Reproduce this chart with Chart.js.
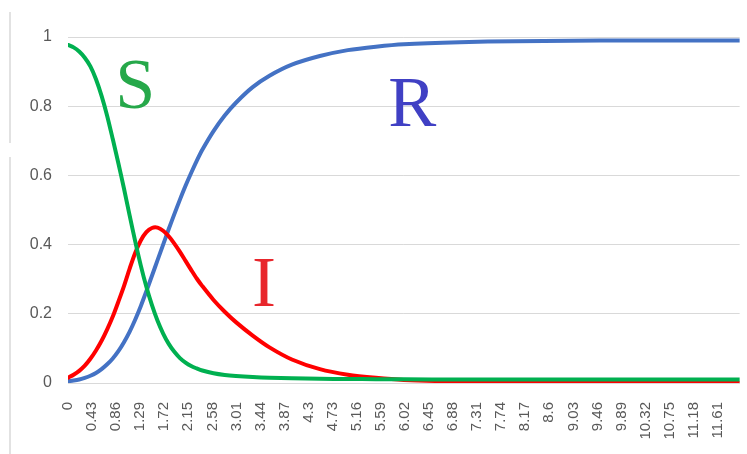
<!DOCTYPE html>
<html>
<head>
<meta charset="utf-8">
<script src="https://cdn.jsdelivr.net/npm/chart.js@4/dist/chart.umd.min.js"></script>
<style>
  html, body { margin: 0; padding: 0; background: #fff; }
  #wrap { width: 747px; height: 454px; position: relative; }
</style>
</head>
<body>
<div id="wrap"><canvas id="sir"></canvas></div>
<script>
// SIR model curves
var times = [0, 0.1, 0.2, 0.3, 0.4, 0.5, 0.6, 0.7, 0.8, 0.9, 1.0, 1.1, 1.2, 1.3, 1.4, 1.5, 1.6, 1.7, 1.8, 1.9,
             2.0, 2.1, 2.2, 2.3, 2.4, 2.6, 2.8, 3.0, 3.3, 3.6, 4.0, 4.5, 5.0, 5.5, 6.0, 7.0, 8.0, 9.0, 10.0, 11.0, 12.0];
var susceptible = [0.977, 0.970, 0.958, 0.940, 0.915, 0.878, 0.830, 0.772, 0.705, 0.635, 0.562, 0.485, 0.41, 0.34, 0.278,
                   0.225, 0.18, 0.143, 0.113, 0.09, 0.072, 0.059, 0.049, 0.042, 0.036, 0.028, 0.023, 0.02, 0.017, 0.015,
                   0.0135, 0.012, 0.0115, 0.011, 0.0105, 0.0102, 0.01, 0.01, 0.01, 0.01, 0.01];
var infected = [0.015, 0.024, 0.035, 0.05, 0.07, 0.094, 0.122, 0.155, 0.192, 0.235, 0.28, 0.33, 0.376, 0.412, 0.436,
                0.448, 0.449, 0.44, 0.424, 0.403, 0.379, 0.353, 0.327, 0.302, 0.28, 0.24, 0.206, 0.176, 0.137, 0.103,
                0.068, 0.04, 0.024, 0.015, 0.009, 0.004, 0.002, 0.001, 0.0005, 0.0002, 0.0001];
var recovered = [0.005, 0.007, 0.01, 0.015, 0.021, 0.029, 0.04, 0.054, 0.071, 0.092, 0.118, 0.148, 0.183, 0.222, 0.265,
                 0.31, 0.355, 0.40, 0.445, 0.488, 0.53, 0.57, 0.607, 0.642, 0.674, 0.728, 0.773, 0.81, 0.855, 0.888,
                 0.92, 0.945, 0.962, 0.972, 0.979, 0.985, 0.988, 0.989, 0.99, 0.99, 0.99];
var tickLabels = ['0', '0.43', '0.86', '1.29', '1.72', '2.15', '2.58', '3.01', '3.44', '3.87', '4.3', '4.73', '5.16', '5.59',
                  '6.02', '6.45', '6.88', '7.31', '7.74', '8.17', '8.6', '9.03', '9.46', '9.89', '10.32', '10.75', '11.18', '11.61'];

// big letters placed in data coordinates
var letters = [
    { text: 'S', t: 1.2, v: 0.85, color: '#26A84A' },
    { text: 'I', t: 3.5, v: 0.277, color: '#E8262C' },
    { text: 'R', t: 6.15, v: 0.798, color: '#4040C4' }
];

function toPoints(ys) {
    return ys.map(function (y, i) { return { x: times[i], y: y }; });
}

var lettersPlugin = {
    id: 'letters',
    beforeDraw: function (chart) {
        var ctx = chart.ctx;
        ctx.save();
        ctx.fillStyle = '#fff';
        ctx.fillRect(0, 0, chart.width, chart.height);
        // the two grey frame lines at the left edge
        ctx.strokeStyle = '#D9D9D9';
        ctx.lineWidth = 1.5;
        ctx.beginPath();
        ctx.moveTo(10, 12); ctx.lineTo(10, 143);
        ctx.moveTo(10, 157); ctx.lineTo(10, 454);
        ctx.stroke();
        ctx.restore();
    },
    afterDatasetsDraw: function (chart) {
        var ctx = chart.ctx;
        var xs = chart.scales.x, ys = chart.scales.y;
        ctx.save();
        ctx.font = '72px "Liberation Serif", "DejaVu Serif", serif';
        ctx.textAlign = 'center';
        ctx.textBaseline = 'middle';
        letters.forEach(function (l) {
            ctx.fillStyle = l.color;
            ctx.fillText(l.text, xs.getPixelForValue(l.t), ys.getPixelForValue(l.v));
        });
        ctx.restore();
    }
};

var ctx = document.getElementById('sir');
new Chart(ctx.getContext('2d'), {
    type: 'line',
    data: {
        datasets: [
            { label: 'S', data: toPoints(susceptible), borderColor: '#00B050' },
            { label: 'I', data: toPoints(infected), borderColor: '#FF0000' },
            { label: 'R', data: toPoints(recovered), borderColor: '#4472C4' }
        ]
    },
    options: {
        responsive: true,
        maintainAspectRatio: false,
        animation: false,
        layout: { padding: { top: 37, right: 6, left: 0, bottom: 0 } },
        elements: {
            point: { radius: 0 },
            line: { borderWidth: 4, tension: 0.3, fill: false, borderCapStyle: 'round' }
        },
        plugins: { legend: { display: false }, tooltip: { enabled: false } },
        scales: {
            x: {
                type: 'linear',
                min: 0,
                max: 12,
                afterBuildTicks: function (scale) {
                    scale.ticks = tickLabels.map(function (s) { return { value: parseFloat(s) }; });
                },
                afterFit: function (scale) { scale.height = 71; },
                grid: { display: false },
                border: { display: true, color: '#D9D9D9', width: 1 },
                ticks: {
                    autoSkip: false,
                    minRotation: 90,
                    maxRotation: 90,
                    padding: 11,
                    color: '#595959',
                    font: { family: '"Liberation Sans", Arial, sans-serif', size: 15 },
                    callback: function (value, index) { return tickLabels[index]; }
                }
            },
            y: {
                min: 0,
                max: 1,
                afterFit: function (scale) { scale.width = 68; },
                border: { display: false },
                grid: { color: '#D9D9D9', lineWidth: 1, drawTicks: false },
                ticks: {
                    stepSize: 0.2,
                    padding: 16,
                    color: '#595959',
                    font: { family: '"Liberation Sans", Arial, sans-serif', size: 16 },
                    callback: function (value) { return String(Math.round(value * 10) / 10); }
                }
            }
        }
    },
    plugins: [lettersPlugin]
});
</script>
</body>
</html>
